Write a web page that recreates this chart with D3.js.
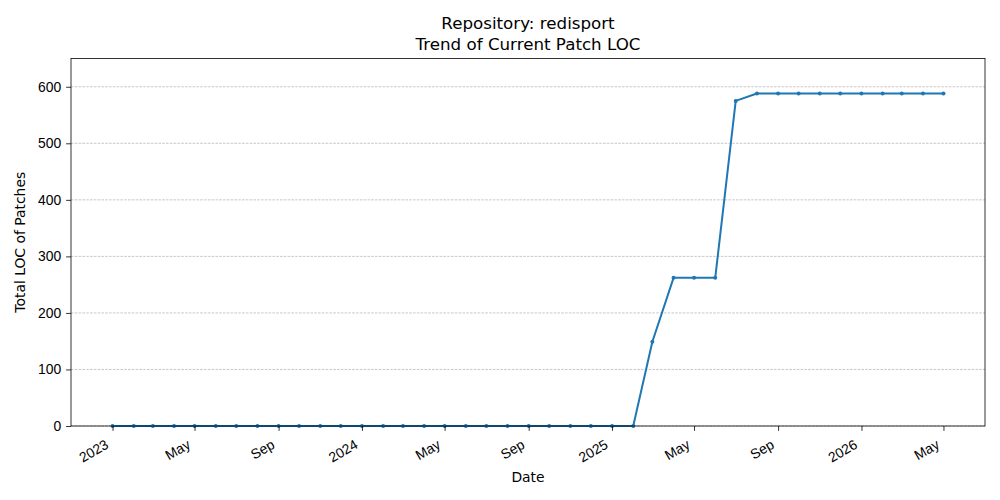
<!DOCTYPE html>
<html>
<head>
<meta charset="utf-8">
<script src="https://cdn.jsdelivr.net/npm/d3@7"></script>
<style>
  body { margin: 0; background: #fff; }
  svg { font-family: "DejaVu Sans", sans-serif; }
</style>
</head>
<body>
<svg id="chart" width="1000" height="500"></svg>
<script>
// monthly snapshots, first of each month
var months = [
  "2023-01", "2023-02", "2023-03", "2023-04", "2023-05", "2023-06",
  "2023-07", "2023-08", "2023-09", "2023-10", "2023-11", "2023-12",
  "2024-01", "2024-02", "2024-03", "2024-04", "2024-05", "2024-06",
  "2024-07", "2024-08", "2024-09", "2024-10", "2024-11", "2024-12",
  "2025-01", "2025-02", "2025-03", "2025-04", "2025-05", "2025-06",
  "2025-07", "2025-08", "2025-09", "2025-10", "2025-11", "2025-12",
  "2026-01", "2026-02", "2026-03", "2026-04", "2026-05"
];
var locValues = [
  0, 0, 0, 0, 0, 0, 0, 0, 0, 0, 0, 0,
  0, 0, 0, 0, 0, 0, 0, 0, 0, 0, 0, 0,
  0, 0, 149, 262, 262, 262, 575, 588, 588, 588, 588, 588,
  588, 588, 588, 588, 588
];
var yTicks = [0, 100, 200, 300, 400, 500, 600];
var yMax = 650;
var titleLines = ["Repository: redisport", "Trend of Current Patch LOC"];

var parse = d3.timeParse("%Y-%m");
var data = months.map(function (m, i) { return { date: parse(m), loc: locValues[i] }; });

var svg = d3.select("#chart");
var margin = { left: 71, right: 15, top: 58.5, bottom: 74 };
var W = 1000, H = 500;
var pw = W - margin.left - margin.right;
var ph = H - margin.top - margin.bottom;

// matplotlib-ish 5% x margin
var ext = d3.extent(data, function (d) { return d.date; });
var pad = (ext[1] - ext[0]) * 0.05;
var x = d3.scaleTime()
  .domain([new Date(+ext[0] - pad), new Date(+ext[1] + pad)])
  .range([0, pw]);
var y = d3.scaleLinear().domain([0, yMax]).range([ph, 0]);

var g = svg.append("g").attr("transform", "translate(" + margin.left + "," + margin.top + ")");

// grid
g.append("g")
  .selectAll("line")
  .data(yTicks)
  .enter().append("line")
  .attr("x1", 0).attr("x2", pw)
  .attr("y1", function (d) { return y(d); })
  .attr("y2", function (d) { return y(d); })
  .style("stroke", "#b0b0b0")
  .style("stroke-width", 0.7)
  .style("stroke-dasharray", "2.6,1.2");

// line + markers
var line = d3.line()
  .x(function (d) { return x(d.date); })
  .y(function (d) { return y(d.loc); });

g.append("path")
  .datum(data)
  .attr("d", line)
  .style("fill", "none")
  .style("stroke", "#1f77b4")
  .style("stroke-width", 2)
  .style("stroke-linejoin", "round");

g.append("g")
  .selectAll("circle")
  .data(data)
  .enter().append("circle")
  .attr("cx", function (d) { return x(d.date); })
  .attr("cy", function (d) { return y(d.loc); })
  .attr("r", 2)
  .style("fill", "#1f77b4");

// x axis: years on Jan, month names every 4 months
var xTickDates = d3.timeMonth.every(4).range(new Date(2023, 0, 1), new Date(2026, 5, 1));
var xAxis = d3.axisBottom(x)
  .tickValues(xTickDates)
  .tickSize(4.9)
  .tickPadding(0)
  .tickFormat(function (d) {
    return d.getMonth() === 0 ? d3.timeFormat("%Y")(d) : d3.timeFormat("%b")(d);
  });
var gx = g.append("g").attr("transform", "translate(0," + ph + ")").call(xAxis);
gx.select(".domain").remove();
gx.selectAll("line").style("stroke", "#000").style("stroke-width", 0.8);
gx.selectAll("text")
  .style("font-size", "13.9px")
  .style("fill", "#000")
  .attr("text-anchor", "end")
  .attr("dy", null)
  .attr("y", null)
  .attr("transform", "translate(-6,17) rotate(-30)")
  .attr("dominant-baseline", "central");

// y axis
var yAxis = d3.axisLeft(y).tickValues(yTicks).tickSize(4.9).tickPadding(4.9);
var gy = g.append("g").call(yAxis);
gy.select(".domain").remove();
gy.selectAll("line").style("stroke", "#000").style("stroke-width", 0.8);
gy.selectAll("text").style("font-size", "13.9px").style("fill", "#000");

// frame
g.append("rect")
  .attr("width", pw).attr("height", ph)
  .style("fill", "none").style("stroke", "#000").style("stroke-width", 0.8);

// labels
svg.append("text")
  .attr("x", margin.left + pw / 2).attr("y", 482)
  .attr("text-anchor", "middle")
  .style("font-size", "13.9px")
  .text("Date");

svg.append("text")
  .attr("transform", "translate(25," + (margin.top + ph / 2) + ") rotate(-90)")
  .attr("text-anchor", "middle")
  .style("font-size", "13.9px")
  .text("Total LOC of Patches");

svg.append("g").selectAll("text")
  .data(titleLines)
  .enter().append("text")
  .attr("x", margin.left + pw / 2)
  .attr("y", function (d, i) { return 29 + i * 20.5; })
  .attr("text-anchor", "middle")
  .style("font-size", "16.7px")
  .text(function (d) { return d; });
</script>
</body>
</html>
